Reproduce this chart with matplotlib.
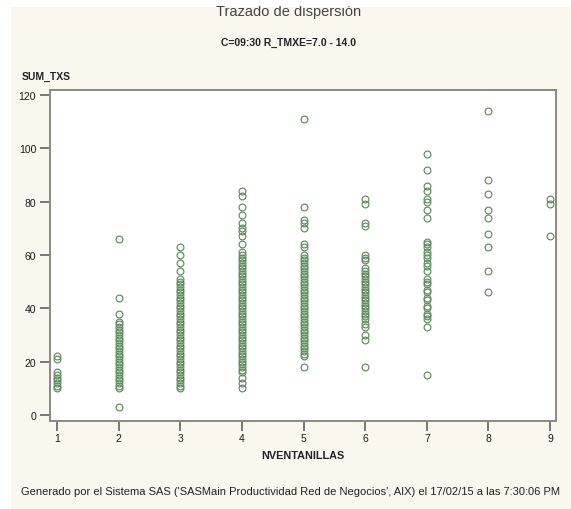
import numpy as np
import matplotlib.pyplot as plt
from matplotlib.patches import Rectangle

plt.rcParams['font.family'] = ['Liberation Sans', 'DejaVu Sans']

# SUM_TXS values for each NVENTANILLAS group
nvent = [1, 2, 3, 4, 5, 6, 7, 8, 9]
sum_txs = {
    1: [10, 11, 12, 13, 14, 15, 16, 21, 22],
    2: [3, 10, 11, 12, 13, 14, 15, 16, 17, 18, 19, 20, 21, 22, 23, 24, 25, 26, 27, 28,
        29, 30, 31, 32, 33, 34, 35, 38, 44, 66],
    3: [10, 11, 12, 13, 14, 15, 16, 17, 18, 19, 20, 21, 22, 23, 24, 25, 26, 27, 28, 29,
        30, 31, 32, 33, 34, 35, 36, 37, 38, 39, 40, 41, 42, 43, 44, 45, 46, 47, 48, 49,
        50, 51, 54, 57, 60, 63],
    4: [10, 12, 14, 16, 17, 18, 19, 20, 21, 22, 23, 24, 25, 26, 27, 28, 29, 30, 31, 32,
        33, 34, 35, 36, 37, 38, 39, 40, 41, 42, 43, 44, 45, 46, 47, 48, 49, 50, 51, 52,
        53, 54, 55, 56, 57, 58, 59, 60, 61, 64, 67, 69, 70, 72, 75, 78, 82, 84],
    5: [18, 22, 23, 24, 25, 26, 27, 28, 29, 30, 31, 32, 33, 34, 35, 36, 37, 38, 39, 40,
        41, 42, 43, 44, 45, 46, 47, 48, 49, 50, 51, 52, 53, 54, 55, 56, 57, 58, 59, 60,
        63, 64, 70, 72, 73, 78, 111],
    6: [18, 28, 30, 33, 34, 36, 37, 38, 39, 40, 41, 42, 43, 44, 45, 46, 47, 48, 49, 50,
        51, 52, 53, 54, 55, 58, 59, 60, 71, 72, 79, 81],
    7: [15, 33, 36, 37, 38, 40, 41, 43, 44, 46, 47, 49, 50, 51, 54, 56, 57, 59, 60, 61,
        63, 64, 65, 74, 77, 80, 81, 84, 86, 92, 98],
    8: [46, 54, 63, 68, 74, 77, 83, 88, 114],
    9: [67, 79, 81],
}

fig = plt.figure(figsize=(5.71, 5.10), dpi=100, facecolor='white')
# cream page background
fig.patches.append(Rectangle((11 / 571, 0), 1, 1 - 8 / 510, transform=fig.transFigure,
                             facecolor='#faf7ee', edgecolor='none', zorder=-10))

ax = fig.add_axes([50 / 571, 1 - 421.7 / 510, 506 / 571, 330.7 / 510])
ax.set_facecolor('white')

for n in nvent:
    y = sum_txs[n]
    ax.plot(np.full(len(y), n), y, 'o', mfc='none', mec='#5e8c5e', ms=4.9, mew=0.85)

ax.set_xlim(0.882, 9.097)
ax.set_ylim(-2.1, 121.9)
ax.set_xticks(nvent)
ax.set_yticks([0, 20, 40, 60, 80, 100, 120])
ax.tick_params(direction='out', length=7, width=1.1, color='#555555',
               labelsize=7.5, labelcolor='#1a1a1a')
ax.tick_params(axis='y', pad=3)
ax.tick_params(axis='x', pad=2)
for s in ax.spines.values():
    s.set_color('#8c8a80')
    s.set_linewidth(1.4)

fig.text(0.505, 1 - 12 / 510, 'Trazado de dispersión', ha='center', va='center',
         fontsize=10.5, color='#444444')
# the top strip of the page is cut off in the original
fig.add_artist(Rectangle((0, 1 - 7 / 510), 1, 7 / 510, transform=fig.transFigure,
                         facecolor='white', edgecolor='none', zorder=10))
fig.text(0.505, 1 - 43 / 510, 'C=09:30 R_TMXE=7.0 - 14.0', ha='center', va='center',
         fontsize=7.5, fontweight='bold', color='#222222')
fig.text(22 / 571, 1 - 77 / 510, 'SUM_TXS', ha='left', va='center',
         fontsize=7.5, fontweight='bold', color='#222222')
fig.text(303 / 571, 1 - 456 / 510, 'NVENTANILLAS', ha='center', va='center',
         fontsize=7.8, fontweight='bold', color='#222222')
fig.text(0.508, 1 - 492 / 510,
         "Generado por el Sistema SAS ('SASMain Productividad Red de Negocios', AIX) el 17/02/15 a las 7:30:06 PM",
         ha='center', va='center', fontsize=8.0, color='#222222')

fig.savefig('out.png', dpi=100, facecolor=fig.get_facecolor())
